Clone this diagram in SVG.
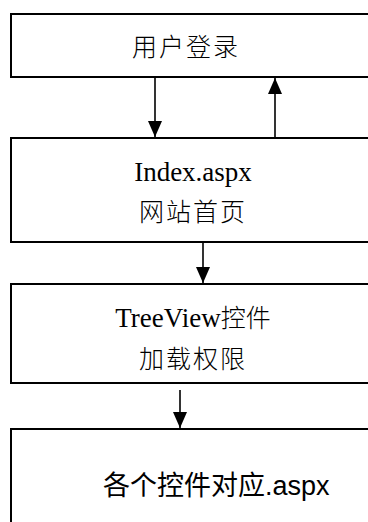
<svg xmlns="http://www.w3.org/2000/svg" width="368" height="522" viewBox="0 0 368 522">
<style>
.box{fill:#fff;stroke:#000;stroke-width:2}
.serif{font-family:"Liberation Serif","Noto Sans CJK SC",serif;font-size:27px;fill:#000;text-anchor:middle}
.cjk{font-family:"Noto Sans CJK SC",sans-serif;font-size:25px;font-weight:300;fill:#000;text-anchor:middle;letter-spacing:2px}
.sans{font-family:"Liberation Sans","Noto Sans CJK SC",sans-serif;font-size:27px;fill:#000}
.conn{stroke:#000;stroke-width:1.6;fill:none}
</style>
<defs>
<marker id="ah" viewBox="0 0 16 14" refX="16" refY="7" markerWidth="16" markerHeight="14" markerUnits="userSpaceOnUse" orient="auto">
<path d="M0,0 L16,7 L0,14 Z" fill="#000"/>
</marker>
</defs>
<rect width="368" height="522" fill="#fff"/>
<g id="node-login">
<rect class="box" x="11" y="14" width="370" height="63"/>
<text class="cjk" x="186" y="56">用户登录</text>
</g>
<g id="node-index">
<rect class="box" x="11" y="138" width="370" height="104"/>
<text class="serif" x="193" y="181">Index.aspx</text>
<text class="cjk" x="193" y="221">网站首页</text>
</g>
<g id="node-treeview">
<rect class="box" x="11" y="284" width="370" height="99"/>
<text class="serif" x="193" y="327">TreeView<tspan font-family="Noto Sans CJK SC" font-size="25" font-weight="300">控件</tspan></text>
<text class="cjk" x="193" y="368">加载权限</text>
</g>
<g id="node-pages">
<rect class="box" x="11" y="429" width="370" height="110"/>
<text class="sans" x="103" y="495">各个控件对应.aspx</text>
</g>
<g id="connectors">
<line class="conn" x1="155" y1="77" x2="155" y2="137" marker-end="url(#ah)"/>
<line class="conn" x1="275" y1="137" x2="275" y2="78" marker-end="url(#ah)"/>
<line class="conn" x1="203" y1="242" x2="203" y2="283" marker-end="url(#ah)"/>
<line class="conn" x1="180" y1="390" x2="180" y2="428" marker-end="url(#ah)"/>
</g>
</svg>
